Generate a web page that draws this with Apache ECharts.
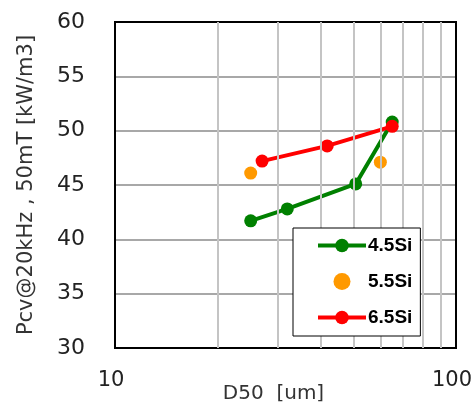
<!DOCTYPE html>
<html><head><meta charset="utf-8">
<script src="https://cdn.jsdelivr.net/npm/echarts@6/dist/echarts.min.js"></script>
<style>html,body{margin:0;padding:0;background:#fff}#c{width:475px;height:405px}</style>
</head><body><div id="c"></div>
<script>
const seriesNames = ['4.5Si', '5.5Si', '6.5Si'];
const d45x = [25.0, 32.0, 50.8, 65.0];
const d45y = [41.7, 42.8, 45.1, 50.8];
const d55x = [25.0, 60.0];
const d55y = [46.1, 47.1];
const d65x = [27.0, 41.9, 65.0];
const d65y = [47.2, 48.6, 50.4];
const minorX = [20, 30, 40, 50, 60, 70, 80, 90];
const xLabels = ['10', '100'];
const xName = 'D50  [um]';
const yName = 'Pcv@20kHz , 50mT [kW/m3]';

const pair = (xs, ys) => xs.map((x, i) => [x, ys[i]]);
const chart = echarts.init(document.getElementById('c'), null, {renderer: 'canvas'});
const font = 'DejaVu Sans';
chart.setOption({
  animation: false,
  grid: {left: 115, right: 19, top: 22, bottom: 57, outerBoundsMode: 'none', containLabel: false,
    show: true, borderColor: '#000', borderWidth: 2, backgroundColor: 'transparent', z: 5},
  xAxis: {
    type: 'log', logBase: 10, min: 10, max: 100,
    name: xName, nameLocation: 'middle', nameGap: 36, nameMoveOverlap: false,
    nameTextStyle: {fontFamily: font, fontSize: 20, color: '#333', padding: [0, 24, 0, 0]},
    axisLine: {show: false},
    axisTick: {show: false},
    axisLabel: {fontFamily: font, fontSize: 21, color: '#222', margin: 22, padding: [0, 8, 0, 0],
      formatter: v => xLabels.includes(String(Math.round(v))) ? String(Math.round(v)) : ''},
    splitLine: {show: false},
    minorSplitLine: {show: false}
  },
  yAxis: {
    type: 'value', min: 30, max: 60, interval: 5,
    name: yName, nameLocation: 'middle', nameGap: 78, nameRotate: 90, nameMoveOverlap: false,
    nameTextStyle: {fontFamily: font, fontSize: 21, color: '#333'},
    axisLine: {show: false},
    axisTick: {show: false},
    axisLabel: {fontFamily: font, fontSize: 22, color: '#222', margin: 30},
    splitLine: {show: true, lineStyle: {color: '#a8a8a8', width: 2}}
  },
  legend: {
    left: 293, top: 228, width: 147, height: 109, z: 20,
    orient: 'vertical', itemGap: 17, padding: [8, 8, 9, 23],
    borderColor: '#000', borderWidth: 1, backgroundColor: '#fff',
    itemWidth: 48, itemHeight: 17,
    lineStyle: {width: 4},
    textStyle: {fontFamily: 'Liberation Sans', fontWeight: 'bold', fontSize: 19, color: '#000', padding: [0, 0, 0, -3]},
    data: seriesNames
  },
  series: [
    {name: 'grid', type: 'line', data: [], silent: true, z: 1,
      markLine: {silent: true, symbol: 'none', label: {show: false},
        lineStyle: {color: '#c4c4c4', width: 2, type: 'solid'},
        data: minorX.map(v => ({xAxis: v}))}},
    {name: seriesNames[0], type: 'line', data: pair(d45x, d45y), color: '#008000',
      lineStyle: {width: 4}, symbol: 'circle', symbolSize: 13, z: 3},
    {name: seriesNames[1], type: 'scatter', data: pair(d55x, d55y), color: '#ff9900',
      itemStyle: {opacity: 1}, symbol: 'circle', symbolSize: 13, z: 3},
    {name: seriesNames[2], type: 'line', data: pair(d65x, d65y), color: '#ff0000',
      lineStyle: {width: 4}, symbol: 'circle', symbolSize: 13, z: 4}
  ]
});
</script></body></html>
